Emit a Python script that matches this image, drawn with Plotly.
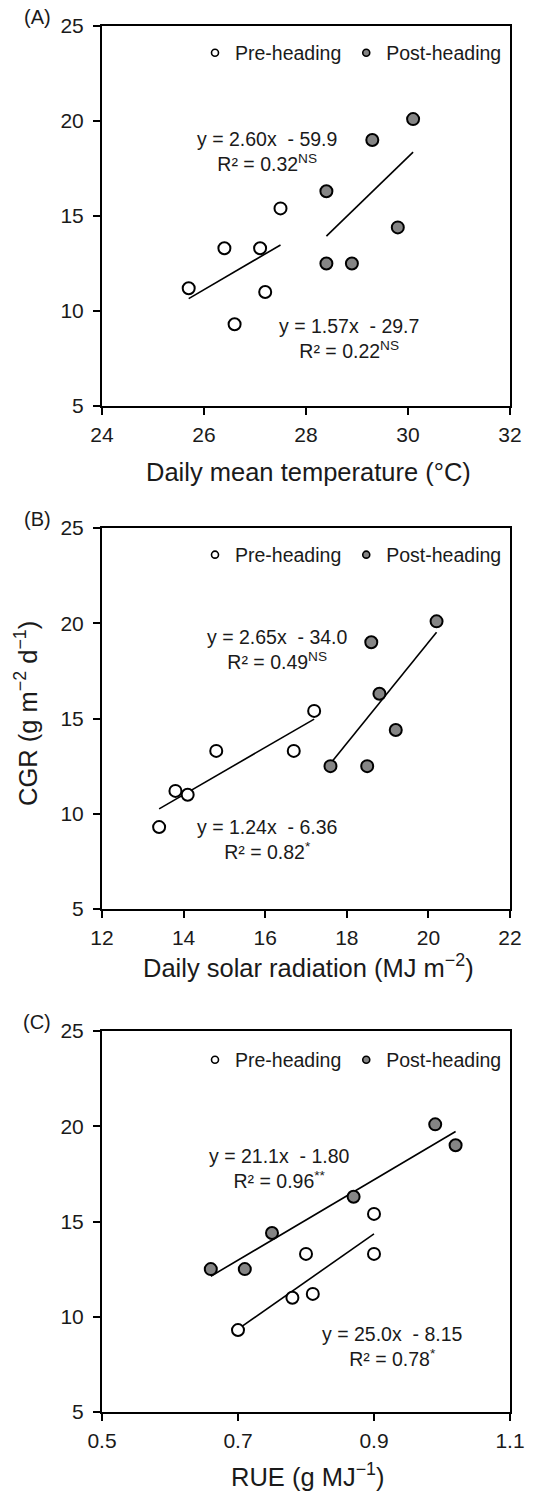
import plotly.graph_objects as go

# ---------------- data ----------------
cgr_pre = [9.3, 11.0, 11.2, 13.3, 13.3, 15.4]
cgr_post = [12.5, 12.5, 14.4, 16.3, 19.0, 20.1]

temp_pre = [26.6, 27.2, 25.7, 26.4, 27.1, 27.5]
temp_post = [28.4, 28.9, 29.8, 28.4, 29.3, 30.1]

rad_pre = [13.4, 14.1, 13.8, 14.8, 16.7, 17.2]
rad_post = [17.6, 18.5, 19.2, 18.8, 18.6, 20.2]

rue_pre = [0.70, 0.78, 0.81, 0.80, 0.90, 0.90]
rue_post = [0.66, 0.71, 0.75, 0.87, 1.02, 0.99]

# regression (slope, intercept) per panel: pre, post
slope_pre = [1.57, 1.24, 25.0]
icpt_pre = [-29.7, -6.36, -8.15]
slope_post = [2.60, 2.65, 21.1]
icpt_post = [-59.9, -34.0, -1.80]

eq_pre = ["y = 1.57x  - 29.7<br>R² = 0.22<sup>NS</sup>",
          "y = 1.24x  - 6.36<br>R² = 0.82<sup>*</sup>",
          "y = 25.0x  - 8.15<br>R² = 0.78<sup>*</sup>"]
eq_post = ["y = 2.60x  - 59.9<br>R² = 0.32<sup>NS</sup>",
           "y = 2.65x  - 34.0<br>R² = 0.49<sup>NS</sup>",
           "y = 21.1x  - 1.80<br>R² = 0.96<sup>**</sup>"]

panel_labels = ["(A)", "(B)", "(C)"]
x_titles = ["Daily mean temperature (°C)",
            "Daily solar radiation (MJ m<sup>−2</sup>)",
            "RUE (g MJ<sup>−1</sup>)"]
x_ranges = [[24, 32], [12, 22], [0.5, 1.1]]
x_dticks = [2, 2, 0.2]
y_range = [5, 25]
y_ticks = [5, 10, 15, 20, 25]

# ---------------- layout geometry (pixels) ----------------
W, H = 539, 1491
X0, X1 = 102, 510
panels_px = [(26, 406), (528, 909), (1031, 1412)]
eq_pre_pos = [(349, 338), (267, 839), (392, 1346)]
eq_post_pos = [(267, 151), (277, 649), (279, 1168)]
xtitle_off = [66, 57, 63]
legend_y = [53, 555, 1060]

FONT = "Arial, Liberation Sans, Helvetica, sans-serif"
GRAY = "#858585"
TXT = "#1a1a1a"

def px(x):
    return x / W

def py(y):
    return 1 - y / H

fig = go.Figure()
xs_pre = [temp_pre, rad_pre, rue_pre]
xs_post = [temp_post, rad_post, rue_post]

layout = dict(
    width=W, height=H,
    margin=dict(l=0, r=0, t=0, b=0, autoexpand=False),
    paper_bgcolor="white", plot_bgcolor="white",
    font=dict(family=FONT, color=TXT, size=19),
    annotations=[],
    showlegend=True,
)

for i in range(3):
    suffix = "" if i == 0 else str(i + 1)
    xa, ya = "x" + suffix, "y" + suffix
    leg = "legend" if i == 0 else "legend" + str(i + 1)
    # regression lines
    for xs, s, b in [(xs_pre[i], slope_pre[i], icpt_pre[i]),
                     (xs_post[i], slope_post[i], icpt_post[i])]:
        lx = [min(xs), max(xs)]
        ly = [s * v + b for v in lx]
        fig.add_trace(go.Scatter(x=lx, y=ly, mode="lines", xaxis=xa, yaxis=ya,
                                 line=dict(color="black", width=1.6),
                                 showlegend=False, hoverinfo="skip"))
    fig.add_trace(go.Scatter(x=xs_pre[i], y=cgr_pre, mode="markers", xaxis=xa, yaxis=ya,
                             name="Pre-heading", showlegend=False,
                             marker=dict(size=12, color="white",
                                         line=dict(color="black", width=2))))
    fig.add_trace(go.Scatter(x=xs_post[i], y=cgr_post, mode="markers", xaxis=xa, yaxis=ya,
                             name="Post-heading", showlegend=False,
                             marker=dict(size=12, color=GRAY,
                                         line=dict(color="black", width=2))))
    # legend-only entries with small symbols
    fig.add_trace(go.Scatter(x=[None], y=[None], mode="markers", xaxis=xa, yaxis=ya,
                             name="Pre-heading", legend=leg,
                             marker=dict(size=7, color="white",
                                         line=dict(color="black", width=1.6))))
    fig.add_trace(go.Scatter(x=[None], y=[None], mode="markers", xaxis=xa, yaxis=ya,
                             name="Post-heading", legend=leg,
                             marker=dict(size=7, color=GRAY,
                                         line=dict(color="black", width=1.6))))
    top, bot = panels_px[i]
    layout["xaxis" + suffix] = dict(
        domain=[px(X0), px(X1)], anchor=ya, range=x_ranges[i], dtick=x_dticks[i],
        tick0=x_ranges[i][0], automargin=False,
        showline=True, linecolor="black", linewidth=2, mirror=True,
        ticks="outside", ticklen=7, tickwidth=1.5, tickcolor="black",
        ticklabelstandoff=2,
        showgrid=False, zeroline=False,
        tickfont=dict(size=21, family=FONT, color=TXT))
    layout["yaxis" + suffix] = dict(
        domain=[py(bot), py(top)], anchor=xa, range=y_range, tickvals=y_ticks,
        automargin=False,
        showline=True, linecolor="black", linewidth=2, mirror=True,
        ticks="outside", ticklen=7, tickwidth=1.5, tickcolor="black",
        ticklabelstandoff=5,
        showgrid=False, zeroline=False,
        tickfont=dict(size=21, family=FONT, color=TXT))
    layout[leg] = dict(
        x=px(507), y=py(legend_y[i]), xanchor="right", yanchor="middle",
        orientation="h", bgcolor="rgba(0,0,0,0)",
        font=dict(size=19.5, family=FONT, color=TXT),
        itemwidth=30, itemsizing="trace", tracegroupgap=0)
    # x titles
    layout["annotations"].append(dict(
        text=x_titles[i], x=px(308), y=py(bot + xtitle_off[i]), xref="paper", yref="paper",
        xanchor="center", yanchor="middle", showarrow=False,
        font=dict(size=25.5, family=FONT, color=TXT)))
    # panel labels
    layout["annotations"].append(dict(
        text=panel_labels[i], x=px(37), y=py(top - 9), xref="paper", yref="paper",
        xanchor="center", yanchor="middle", showarrow=False,
        font=dict(size=20, family=FONT, color=TXT)))
    # equations
    for txt, (ex, ey) in [(eq_pre[i], eq_pre_pos[i]), (eq_post[i], eq_post_pos[i])]:
        layout["annotations"].append(dict(
            text=txt, x=px(ex), y=py(ey), xref="paper", yref="paper",
            xanchor="center", yanchor="middle", align="center", showarrow=False,
            font=dict(size=19.5, family=FONT, color=TXT)))

# y title
layout["annotations"].append(dict(
    text="CGR (g m<sup>−2</sup> d<sup>−1</sup>)", x=px(26), y=py(714),
    xref="paper", yref="paper", xanchor="center", yanchor="middle",
    textangle=-90, showarrow=False,
    font=dict(size=25.5, family=FONT, color=TXT)))

fig.update_layout(**layout)
fig.write_html("out.html")
